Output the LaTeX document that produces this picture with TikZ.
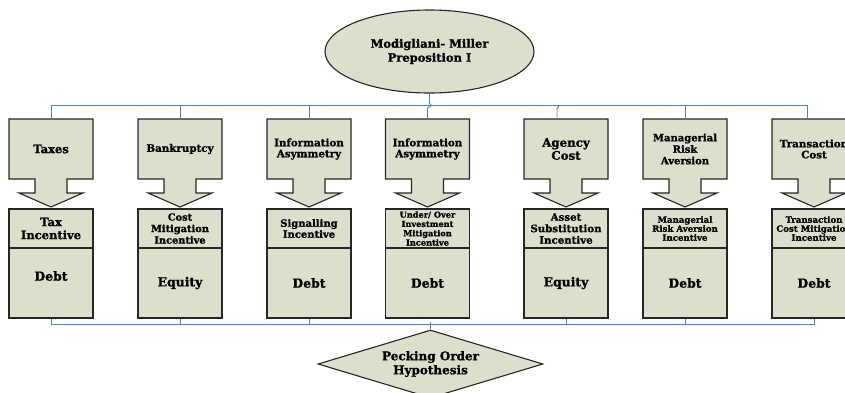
\documentclass[tikz,border=0pt]{standalone}
\usepackage{fontspec}
\setmainfont{DejaVu Serif}[BoldFont={DejaVu Serif Bold},BoldFeatures={FakeBold=1.2}]
\usetikzlibrary{shapes.geometric,calc}
\definecolor{boxfill}{RGB}{220,223,203}
\definecolor{busblue}{RGB}{79,129,189}
\newcommand{\fs}[2]{\fontsize{#1}{#2}\selectfont}
\tikzset{
 shp/.style={fill=boxfill, draw=black!85, line width=1.1pt, line join=miter},
 toptext/.style={rectangle, minimum width=84, minimum height=60, inner sep=0, align=center},
 midbox/.style={shp, rectangle, minimum width=84, minimum height=39, inner sep=0, align=center},
 lowbox/.style={shp, rectangle, minimum width=84, minimum height=70, inner sep=0, align=center, font=\bfseries\fs{12.4}{14}},
 bus/.style={draw=busblue, line width=0.9pt},
}
\newcommand{\mycallout}[4]{%
 \draw[shp] ({#2-42},119) -- ({#2+42},119) -- ({#2+42},179) -- ({#2+16},179) -- ({#2+16},193) -- ({#2+32},193) -- (#2,207) -- ({#2-32},193) -- ({#2-16},193) -- ({#2-16},179) -- ({#2-42},179) -- cycle;
 \node[toptext, font=\bfseries#3] (#1) at (#2,149) {#4};
}
\begin{document}
\begin{tikzpicture}[x=1pt,y=-1pt]
\useasboundingbox (0,0) rectangle (845,392);
% top node
\node[shp, ellipse, minimum width=209, minimum height=83, inner sep=0, align=center, font=\bfseries\fs{11.5}{14}] (e) at (429.5,51.5) {Modigliani- Miller\\Preposition I};
% callouts
\mycallout{t1}{51}{\fs{11.5}{13}}{Taxes}
\mycallout{t2}{180}{\fs{10.3}{11}}{Bankruptcy}
\mycallout{t3}{309}{\fs{10.3}{11}}{Information\\Asymmetry}
\mycallout{t4}{427.5}{\fs{10.3}{11}}{Information\\Asymmetry}
\mycallout{t5}{566}{\fs{11.8}{13}}{Agency\\Cost}
\mycallout{t6}{685}{\fs{10}{11.5}}{Managerial\\Risk\\Aversion}
\mycallout{t7}{814}{\fs{10.3}{11}}{Transaction\\Cost}
% middle boxes
\node[midbox, font=\bfseries\fs{11.5}{13}] (m1) at (51,228.5) {Tax\\Incentive};
\node[midbox, font=\bfseries\fs{9.8}{11.5}] (m2) at (180,228.5) {Cost\\Mitigation\\Incentive};
\node[midbox, font=\bfseries\fs{10}{11}] (m3) at (309,228.5) {Signalling\\Incentive};
\node[midbox, font=\bfseries\fs{8.2}{9.3}] (m4) at (427.5,228.5) {Under/ Over\\Investment\\Mitigation\\Incentive};
\node[midbox, font=\bfseries\fs{10.2}{11.5}] (m5) at (566,228.5) {Asset\\Substitution\\Incentive};
\node[midbox, font=\bfseries\fs{8.6}{9}] (m6) at (685,228.5) {Managerial\\Risk Aversion\\Incentive};
\node[midbox, font=\bfseries\fs{8.6}{9}] (m7) at (814,228.5) {Transaction\\Cost Mitigation\\Incentive};
% lower boxes
\node[lowbox, label={[font=\bfseries\fs{12.4}{14}, yshift=7pt]center:Debt}] (d1) at (51,283) {};
\node[lowbox] (d2) at (180,283) {Equity};
\node[lowbox] (d3) at (309,283) {Debt};
\node[lowbox] (d4) at (427.5,283) {Debt};
\node[lowbox] (d5) at (566,283) {Equity};
\node[lowbox] (d6) at (685,283) {Debt};
\node[lowbox] (d7) at (814,283) {Debt};
% bottom diamond
\node[shp, diamond, aspect=3.3, minimum width=225, minimum height=68, inner sep=0, align=center, font=\bfseries\fs{12}{14}] (p) at (430.5,364) {Pecking Order\\Hypothesis};
% top bus
\draw[bus] (t1.north) -- ++(0,-13) -| ([xshift=-7pt]t7.north);
\draw[bus] (t2.north) -- ++(0,-13);
\draw[bus] (t3.north) -- ++(0,-13);
\draw[bus] (t6.north) -- ++(0,-13);
\draw[bus] ([xshift=-9pt]t5.north) -- ++(0,-10) -- ++(2,-3);
\draw[bus] (e.south) -- ++(0,10) .. controls ($(e.south)+(3,11)$) and ($(t4.north)+(3,-12)$) .. ($(t4.north)+(0,-11)$) -- (t4.north);
% bottom bus
\draw[bus] (d1.south) -- ++(0,6) -| (d7.south);
\draw[bus] (d2.south) -- ++(0,6);
\draw[bus] (d3.south) -- ++(0,6);
\draw[bus] (d5.south) -- ++(0,6);
\draw[bus] (d6.south) -- ++(0,6);
\draw[bus] (p.north) -- ++(0,-7);
\end{tikzpicture}
\end{document}
